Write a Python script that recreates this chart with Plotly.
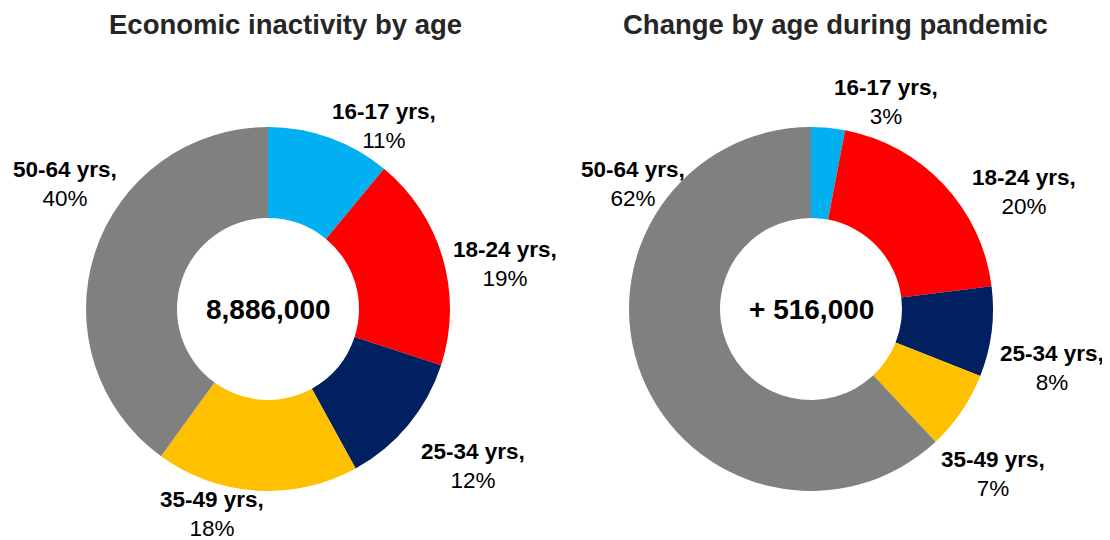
import plotly.graph_objects as go

ages = ["16-17 yrs", "18-24 yrs", "25-34 yrs", "35-49 yrs", "50-64 yrs"]
inactivity_pct = [11, 19, 12, 18, 40]
change_pct = [3, 20, 8, 7, 62]
colors = ["#00B0F0", "#FF0000", "#002060", "#FFC000", "#808080"]
titles = ["Economic inactivity by age", "Change by age during pandemic"]
center_texts = ["8,886,000", "+ 516,000"]

W, H = 1110, 540
OFF = 8  # page body margin
FONT = "Liberation Sans"


def px(x):
    return (x - OFF) / W


def py(y):
    return 1 - (y - OFF) / H


# pie geometry (pixels in final picture)
r = 182
centers = [(268, 309), (811, 309)]
# label block positions (pixels) for each pie, in category order
label_pos = [
    [(384, 126), (505, 264), (473, 466), (212, 514), (65, 184)],
    [(886, 102), (1024, 192), (1052, 368), (993, 474), (633, 184)],
]
title_pos = [(285, 25), (835, 25)]

fig = go.Figure()
for vals, (cx, cy), lpos in zip([inactivity_pct, change_pct], centers, label_pos):
    fig.add_trace(go.Pie(
        labels=ages, values=vals, hole=0.5, sort=False, direction="clockwise",
        rotation=0,
        marker=dict(colors=colors, line=dict(width=0)),
        textinfo="none",
        hoverinfo="label+percent",
        showlegend=False,
        domain=dict(x=[px(cx - r), px(cx + r)], y=[py(cy + r), py(cy - r)]),
    ))
    for lab, v, (lx, ly) in zip(ages, vals, lpos):
        fig.add_annotation(
            text=f"<b>{lab},</b><br>{v}%", x=px(lx), y=py(ly), xref="paper", yref="paper",
            xanchor="center", yanchor="middle", showarrow=False, align="center",
            font=dict(family=FONT, size=22.5, color="#000000"))

for t, (tx, ty) in zip(titles, title_pos):
    fig.add_annotation(text=f"<b>{t}</b>", x=px(tx), y=py(ty), xref="paper", yref="paper",
                       xanchor="center", yanchor="middle", showarrow=False,
                       font=dict(family=FONT, size=27.5, color="#262626"))
for t, (cx, cy) in zip(center_texts, centers):
    fig.add_annotation(text=f"<b>{t}</b>", x=px(cx), y=py(cy), xref="paper", yref="paper",
                       xanchor="center", yanchor="middle", showarrow=False,
                       font=dict(family=FONT, size=28, color="#000000"))

fig.update_layout(width=W, height=H, margin=dict(l=0, r=0, t=0, b=0),
                  paper_bgcolor="white", plot_bgcolor="white")
fig.write_html("out.html")
